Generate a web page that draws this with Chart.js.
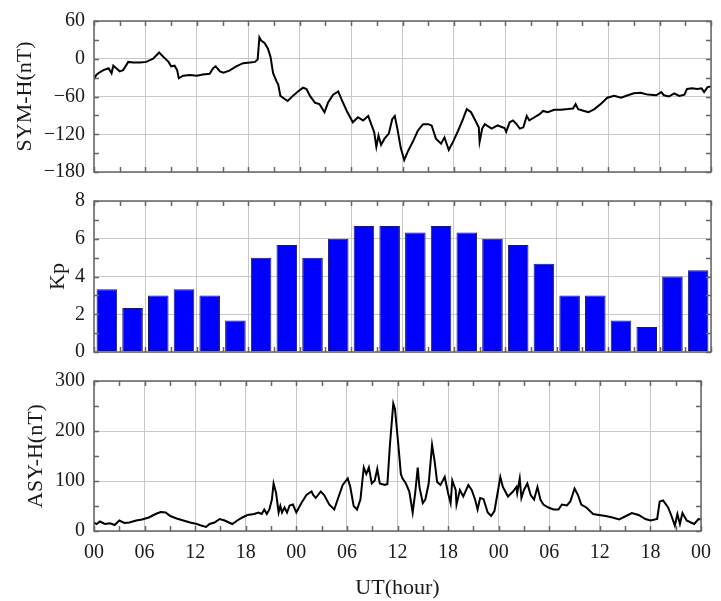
<!DOCTYPE html>
<html>
<head>
<meta charset="utf-8">
<script src="https://cdn.jsdelivr.net/npm/chart.js@4.4.0/dist/chart.umd.min.js"></script>
<style>
  body { margin: 0; background: #fff; }
  #wrap { position: relative; width: 721px; height: 601px; }
  canvas { position: absolute; left: 0; }
</style>
</head>
<body>
<div id="wrap">
  <canvas id="symh" width="721" height="200" style="top:0"></canvas>
  <canvas id="kp" width="721" height="200" style="top:180px"></canvas>
  <canvas id="asyh" width="721" height="241" style="top:360px"></canvas>
</div>
<script>
const xTickLabels = ['00', '06', '12', '18', '00', '06', '12', '18', '00', '06', '12', '18', '00']

// SYM-H (nT)
const symhTime = [0, 0.25, 0.5, 1.1, 1.7, 2.05, 2.25, 2.6, 3.0, 3.4,
  4.0, 4.6, 5.4, 6.1, 6.9, 7.6, 8.1, 8.7, 9.0, 9.4,
  9.7, 9.9, 10.4, 11.2, 12.0, 12.7, 13.5, 13.9, 14.2, 14.7,
  15.1, 15.8, 16.6, 17.4, 18.2, 18.8, 19.1, 19.3, 19.5, 19.9,
  20.3, 20.6, 20.9, 21.3, 21.5, 21.75, 22.25, 22.6, 23.2, 23.8,
  24.4, 24.8, 25.2, 25.8, 26.3, 26.9, 27.3, 27.9, 28.5, 28.9,
  29.5, 30.2, 30.8, 31.4, 32.0, 32.4, 32.7, 32.95, 33.2, 33.5,
  33.9, 34.4, 34.8, 35.1, 35.4, 35.8, 36.2, 36.6, 37.2, 37.8,
  38.4, 39.0, 39.4, 39.9, 40.5, 40.9, 41.4, 41.9, 42.5, 43.0,
  43.5, 44.0, 44.6, 44.9, 45.0, 45.3, 45.6, 46.4, 47.1, 47.9,
  48.1, 48.5, 48.9, 49.3, 49.7, 50.1, 50.5, 50.8, 51.4, 52.0,
  52.4, 52.95, 53.7, 54.5, 55.3, 55.9, 56.2, 56.5, 57.2, 57.7,
  58.4, 59.2, 59.9, 60.7, 61.5, 62.3, 63.0, 63.8, 64.6, 65.6,
  66.2, 66.5, 67.1, 67.7, 68.3, 68.9, 69.2, 69.8, 70.4, 70.9,
  71.2, 71.6, 72]
const symhValue = [-33, -26, -23, -18, -15, -23, -11, -15, -20, -18,
  -5, -6, -6, -5, 0, 10, 3, -5, -12, -11,
  -18, -31, -27, -26, -27, -25, -24, -15, -12, -20,
  -22, -19, -12, -7, -6, -5, -1, 34, 29, 25,
  16, 3, -23, -36, -41, -59, -64, -67, -59, -52,
  -46, -48, -59, -70, -72, -85, -70, -57, -52, -65,
  -83, -101, -93, -98, -91, -106, -117, -140, -122, -137,
  -127, -119, -96, -91, -111, -142, -161, -148, -132, -114,
  -104, -104, -106, -127, -135, -125, -145, -132, -114, -98,
  -80, -85, -101, -109, -132, -111, -104, -111, -106, -110,
  -116, -101, -98, -104, -111, -109, -91, -98, -93, -88,
  -83, -85, -81, -81, -80, -79, -72, -80, -83, -85,
  -80, -71, -62, -59, -62, -58, -55, -54, -57, -58,
  -53, -58, -60, -55, -59, -57, -48, -47, -48, -47,
  -53, -45, -44]

// Kp, 3-hourly
const kpTime = [1.5, 4.5, 7.5, 10.5, 13.5, 16.5, 19.5, 22.5, 25.5, 28.5, 31.5, 34.5,
  37.5, 40.5, 43.5, 46.5, 49.5, 52.5, 55.5, 58.5, 61.5, 64.5, 67.5, 70.5]
const kpValue = [3.33, 2.33, 3, 3.33, 3, 1.67, 5, 5.67, 5, 6, 6.67, 6.67,
  6.33, 6.67, 6.33, 6, 5.67, 4.67, 3, 3, 1.67, 1.33, 4, 4.33]

// ASY-H (nT)
const asyhTime = [0, 0.3, 0.7, 1.3, 1.9, 2.45, 3.0, 3.6, 4.2, 5.0,
  5.7, 6.5, 7.3, 7.9, 8.5, 9.05, 9.8, 10.6, 11.4, 12.2,
  12.7, 13.3, 13.7, 14.3, 14.9, 15.5, 16.0, 16.4, 17.0, 17.6,
  18.2, 19.0, 19.5, 19.9, 20.2, 20.5, 20.8, 21.1, 21.3, 21.6,
  21.9, 22.1, 22.3, 22.6, 22.9, 23.2, 23.6, 24.0, 24.6, 25.2,
  25.8, 26.0, 26.3, 26.9, 27.3, 27.9, 28.5, 28.9, 29.5, 30.1,
  30.4, 30.8, 31.2, 31.6, 32.0, 32.3, 32.6, 32.95, 33.3, 33.6,
  33.9, 34.5, 34.8, 35.1, 35.5, 35.7, 36.1, 36.4, 36.6, 37.0,
  37.4, 37.8, 38.1, 38.4, 38.6, 39.0, 39.3, 39.7, 40.1, 40.4,
  40.7, 41.1, 41.6, 42.0, 42.3, 42.5, 42.9, 43.0, 43.4, 43.8,
  44.4, 44.8, 45.2, 45.5, 45.8, 46.2, 46.7, 47.1, 47.5, 47.8,
  48.2, 48.5, 49.1, 49.7, 50.1, 50.2, 50.5, 50.7, 51.0, 51.4,
  51.8, 52.2, 52.6, 52.95, 53.3, 53.9, 54.5, 55.1, 55.5, 56.1,
  56.5, 57.0, 57.4, 57.8, 58.4, 59.2, 59.9, 60.7, 61.5, 62.3,
  63.1, 63.8, 64.6, 65.4, 66.0, 66.8, 67.1, 67.5, 68.1, 68.5,
  68.9, 69.2, 69.5, 69.8, 70.3, 70.8, 71.2, 71.7, 72]
const asyhValue = [17, 14, 19, 14, 15.5, 12, 21, 16, 17, 21,
  23, 27, 34, 38, 37, 30, 25, 21, 17, 14,
  11, 8, 14, 17, 24, 21, 17, 14, 21, 27,
  32, 34, 37, 34, 43, 34, 43, 63, 95, 76,
  37, 50, 37, 47, 37, 51, 53, 37, 56, 72,
  79, 72, 66, 79, 72, 53, 43, 63, 92, 105,
  88, 50, 43, 63, 127, 114, 127, 95, 101, 124,
  95, 92, 94, 172, 255, 244, 172, 114, 105, 95,
  79, 37, 76, 127, 88, 56, 63, 95, 172, 140,
  98, 92, 108, 76, 56, 101, 82, 53, 82, 69,
  92, 82, 63, 43, 66, 64, 37, 30, 40, 69,
  108, 88, 69, 79, 88, 76, 105, 66, 82, 95,
  72, 63, 88, 63, 53, 47, 43, 43, 53, 51,
  59, 85, 72, 53, 47, 34, 32, 30, 27, 23,
  30, 36, 32, 24, 21, 24, 59, 61, 47, 30,
  11, 34, 14, 36, 21, 17, 14, 24, 23]

const FONT = "'Liberation Serif', 'Times New Roman', serif"
const TEXT = '#1a1a1a'
const GRID = '#c8c8c8'

const toPoints = (xs, ys) => xs.map((x, i) => ({ x, y: ys[i] }))

/**
 * Box around the plot area with small inward ticks on all four sides.
 */
const frame = {
  id: 'frame',
  afterDraw(chart, args, opts) {
    const { ctx, chartArea: a, scales: { x, y } } = chart
    ctx.save()
    ctx.strokeStyle = '#666'
    ctx.lineWidth = 1.5
    ctx.beginPath()
    for (let t = x.min; t <= x.max; t += opts.xMinor) {
      const px = Math.round(x.getPixelForValue(t)) + 0.5
      ctx.moveTo(px, a.top)
      ctx.lineTo(px, a.top + 5)
      ctx.moveTo(px, a.bottom)
      ctx.lineTo(px, a.bottom - 5)
    }
    for (let v = y.min; v <= y.max; v += opts.yMinor) {
      const py = Math.round(y.getPixelForValue(v)) + 0.5
      ctx.moveTo(a.left, py)
      ctx.lineTo(a.left + 5, py)
      ctx.moveTo(a.right, py)
      ctx.lineTo(a.right - 5, py)
    }
    ctx.stroke()
    ctx.strokeRect(a.left, a.top, a.right - a.left, a.bottom - a.top)
    ctx.restore()
  },
}

const xScale = (showLabels) => ({
  type: 'linear',
  min: 0,
  max: 72,
  offset: false,
  grid: { color: GRID, lineWidth: 1, drawTicks: false, offset: false },
  border: { display: false },
  ticks: {
    display: showLabels,
    stepSize: 6,
    padding: 10,
    autoSkip: false,
    maxRotation: 0,
    color: TEXT,
    font: { family: FONT, size: 20 },
    callback: (v, i) => xTickLabels[i],
  },
  title: {
    display: showLabels,
    text: 'UT(hour)',
    color: TEXT,
    font: { family: FONT, size: 22 },
    padding: { top: 0, bottom: 0 },
  },
  afterFit: (s) => { s.height = showLabels ? 70 : 0 },
})

const yScale = (min, max, step, title, padLeft) => ({
  min,
  max,
  grid: { color: GRID, lineWidth: 1, drawTicks: false },
  border: { display: false },
  ticks: {
    stepSize: step,
    padding: 9,
    color: TEXT,
    font: { family: FONT, size: 20 },
    callback: (v) => (v < 0 ? '\u2212' + (-v) : String(v)),
  },
  title: {
    display: true,
    text: title,
    color: TEXT,
    font: { family: FONT, size: 22 },
    padding: { top: 0, bottom: 0 },
  },
  afterFit: (s) => { s.width = 94 - padLeft },
})

const baseOptions = (padLeft, bottom) => ({
  responsive: false,
  animation: false,
  layout: { padding: { left: padLeft, right: 10, top: 18, bottom } },
})

const plugins = (yMinor) => ({
  legend: { display: false },
  tooltip: { enabled: false },
  frame: { xMinor: 3, yMinor },
})

new Chart(document.querySelector('#symh'), {
  type: 'line',
  data: {
    datasets: [{
      data: toPoints(symhTime, symhValue),
      borderColor: '#000',
      borderWidth: 2,
      pointRadius: 0,
      fill: false,
      tension: 0,
    }],
  },
  options: {
    ...baseOptions(12, 28),
    plugins: plugins(30),
    scales: { x: xScale(false), y: yScale(-180, 60, 60, 'SYM-H(nT)', 12) },
  },
  plugins: [frame],
})

new Chart(document.querySelector('#kp'), {
  type: 'bar',
  data: {
    datasets: [{
      data: toPoints(kpTime, kpValue),
      backgroundColor: '#0000ff',
      borderColor: '#222',
      borderWidth: 1,
      barPercentage: 1,
      categoryPercentage: 0.8,
    }],
  },
  options: {
    ...baseOptions(45, 28),
    plugins: plugins(1),
    scales: { x: xScale(false), y: yScale(0, 8, 2, 'Kp', 45) },
  },
  plugins: [frame],
})

new Chart(document.querySelector('#asyh'), {
  type: 'line',
  data: {
    datasets: [{
      data: toPoints(asyhTime, asyhValue),
      borderColor: '#000',
      borderWidth: 2,
      pointRadius: 0,
      fill: false,
      tension: 0,
    }],
  },
  options: {
    ...baseOptions(23, 0),
    plugins: plugins(50),
    scales: { x: xScale(true), y: yScale(0, 300, 100, 'ASY-H(nT)', 23) },
  },
  plugins: [frame],
})
</script>
</body>
</html>
